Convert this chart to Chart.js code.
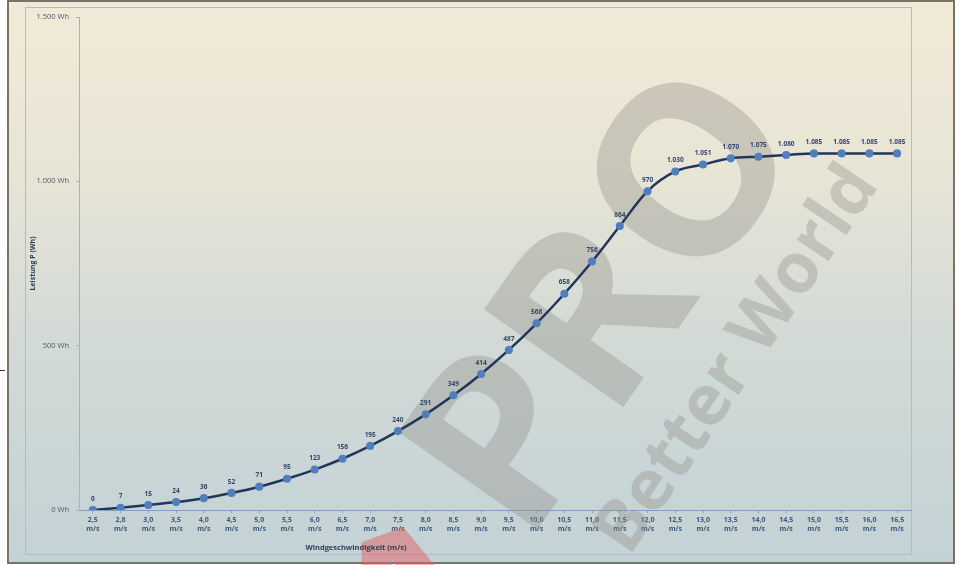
<!DOCTYPE html>
<html lang="de">
<head>
<meta charset="utf-8">
<title>Leistungskurve</title>
<script src="https://cdn.jsdelivr.net/npm/chart.js@4.4.1/dist/chart.umd.min.js"></script>
<style>
  html, body { margin: 0; padding: 0; background: #fff; }
  #wrap { width: 963px; height: 565px; }
</style>
</head>
<body>
<div id="wrap"><canvas id="kurve" width="963" height="565"></canvas></div>
<script>
// Windgeschwindigkeit (m/s) und Leistung (Wh)
const windSpeeds = ['2,5', '2,8', '3,0', '3,5', '4,0', '4,5', '5,0', '5,5', '6,0', '6,5',
  '7,0', '7,5', '8,0', '8,5', '9,0', '9,5', '10,0', '10,5', '11,0', '11,5',
  '12,0', '12,5', '13,0', '13,5', '14,0', '14,5', '15,0', '15,5', '16,0', '16,5'];
const leistung = [0, 7, 15, 24, 36, 52, 71, 95, 123, 156,
  195, 240, 291, 349, 414, 487, 568, 658, 756, 864,
  970, 1030, 1051, 1070, 1075, 1080, 1085, 1085, 1085, 1085];
const yMax = 1500;
const yStep = 500;

const FONT = '"Open Sans", "Liberation Sans", sans-serif';

// Tausenderpunkt wie in der Tabelle: 1.030
function formatDe(n) {
  return String(n).replace(/\B(?=(\d{3})+(?!\d))/g, '.');
}

const hintergrund = {
  id: 'hintergrund',
  beforeDraw(chart) {
    const ctx = chart.ctx;
    ctx.save();
    ctx.fillStyle = '#ffffff';
    ctx.fillRect(0, 0, chart.width, chart.height);
    const g = ctx.createLinearGradient(0, 0, 0, 565);
    g.addColorStop(0, '#f1ead7');
    g.addColorStop(0.3, '#e8e5d6');
    g.addColorStop(0.6, '#d2dad6');
    g.addColorStop(1, '#c3d2d6');
    ctx.fillStyle = g;
    ctx.fillRect(9, 2, 944, 560);
    // Rahmen aussen
    ctx.strokeStyle = '#7d7266';
    ctx.lineWidth = 2;
    ctx.strokeRect(8, 1, 946, 562);
    // Diagrammfläche
    ctx.strokeStyle = '#a9bed1';
    ctx.lineWidth = 1;
    ctx.strokeRect(25.5, 7.5, 886, 547);
    // kleiner Strich links
    ctx.strokeStyle = '#333';
    ctx.beginPath();
    ctx.moveTo(0, 370.5);
    ctx.lineTo(5, 370.5);
    ctx.stroke();
    ctx.restore();
  }
};

function schrägText(ctx, text, x, y, winkel, font, farbe) {
  ctx.save();
  ctx.fillStyle = farbe;
  ctx.textAlign = 'center';
  ctx.textBaseline = 'middle';
  ctx.translate(x, y);
  ctx.rotate(winkel * Math.PI / 180);
  ctx.font = font;
  ctx.fillText(text, 0, 0);
  ctx.restore();
}

const wasserzeichen = {
  id: 'wasserzeichen',
  beforeDatasetsDraw(chart) {
    const ctx = chart.ctx;
    const grau = 'rgba(145, 142, 132, 0.36)';
    schrägText(ctx, 'PRO', 612, 305, -55, 'bold 238px ' + FONT, grau);
    schrägText(ctx, 'Better World', 738, 360, -56, 'bold 70px ' + FONT, grau);
    schrägText(ctx, 'A', 418, 632, -20, 'bold 240px ' + FONT, 'rgba(228, 95, 100, 0.5)');
  }
};

const wertLabels = {
  id: 'wertLabels',
  afterDatasetsDraw(chart) {
    const ctx = chart.ctx;
    const meta = chart.getDatasetMeta(0);
    ctx.save();
    ctx.font = 'bold 6.5px ' + FONT;
    ctx.fillStyle = '#34466a';
    ctx.textAlign = 'center';
    ctx.textBaseline = 'bottom';
    meta.data.forEach((pt, i) => {
      ctx.fillText(formatDe(leistung[i]), pt.x, pt.y - 8);
    });
    ctx.restore();
  }
};

const xTitel = {
  id: 'xTitel',
  afterDraw(chart) {
    const ctx = chart.ctx;
    ctx.save();
    ctx.font = 'bold 7.5px ' + FONT;
    ctx.fillStyle = '#2f3f58';
    ctx.textAlign = 'center';
    ctx.textBaseline = 'middle';
    ctx.fillText('Windgeschwindigkeit (m/s)', 356, 548);
    ctx.restore();
  }
};

new Chart(document.getElementById('kurve'), {
  type: 'line',
  data: {
    labels: windSpeeds.map(v => [v, 'm/s']),
    datasets: [{
      label: 'Leistung',
      data: leistung,
      borderColor: '#22355a',
      borderWidth: 2.5,
      cubicInterpolationMode: 'monotone',
      pointRadius: 2.8,
      pointBackgroundColor: '#4f7fbd',
      pointBorderColor: '#4f7fbd',
      fill: false
    }]
  },
  options: {
    responsive: false,
    animation: false,
    devicePixelRatio: 1,
    layout: { padding: { left: 25, right: 52, top: 17, bottom: 10 } },
    plugins: {
      legend: { display: false },
      tooltip: { enabled: false }
    },
    scales: {
      x: {
        type: 'category',
        offset: true,
        afterFit: s => { s.height = 45; },
        grid: { display: true, drawOnChartArea: false, drawTicks: true, tickLength: 3, color: '#87a3c2' },
        border: { display: true, color: '#7f9fc2', width: 1 },
        ticks: {
          autoSkip: false,
          maxRotation: 0,
          padding: 2,
          color: '#3d5878',
          font: { family: FONT, size: 7, weight: 'bold', lineHeight: 1.3 }
        }
      },
      y: {
        min: 0,
        max: yMax,
        afterFit: s => { s.width = 54; },
        grid: { display: true, drawOnChartArea: false, drawTicks: true, tickLength: 3, color: '#9fb4c9' },
        border: { display: true, color: '#9fb4c9', width: 1 },
        title: {
          display: true,
          text: 'Leistung P (Wh)',
          color: '#2f3f58',
          padding: { top: 4, bottom: 0 },
          font: { family: FONT, size: 7, weight: 'bold' }
        },
        ticks: {
          stepSize: yStep,
          padding: 7,
          color: '#4a5a6c',
          font: { family: FONT, size: 7.5 },
          callback: v => formatDe(v) + ' Wh'
        }
      }
    }
  },
  plugins: [hintergrund, wasserzeichen, wertLabels, xTitel]
});
</script>
</body>
</html>
